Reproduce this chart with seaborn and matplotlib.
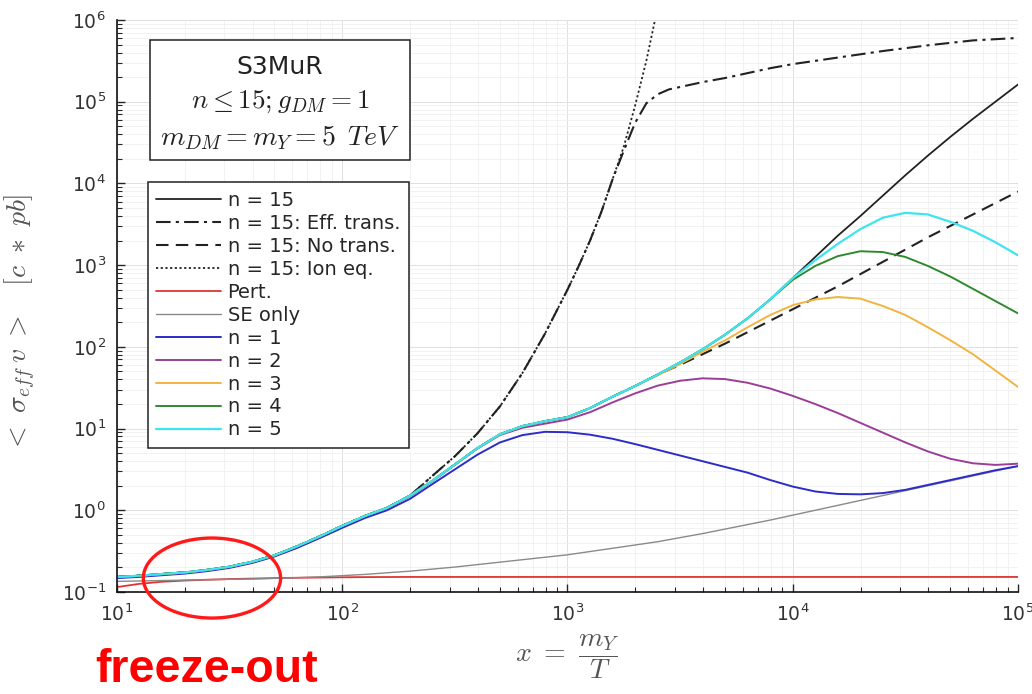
import numpy as np
import pandas as pd
import matplotlib
matplotlib.use("Agg")
import matplotlib.pyplot as plt
from matplotlib.patches import Ellipse, Rectangle
from matplotlib.ticker import LogLocator, NullFormatter
import seaborn as sns

# ---------------------------------------------------------------- data
# sampling points in x = m_Y / T
X = [10, 12.6, 15.8, 20, 25.1, 31.6, 39.8, 50.1, 63.1, 79.4,
     100, 126, 158, 200, 251, 316, 398, 501, 631, 794,
     1000, 1259, 1585, 1995, 2512, 3162, 3981, 5012, 6310, 7943,
     10000, 12589, 15849, 19953, 25119, 31623, 39811, 50119, 63096, 79433,
     100000]

# log10 <sigma_eff v> in c*pb on the X grid
LOG_N15 = [-0.816, -0.80, -0.78, -0.76, -0.73, -0.69, -0.63, -0.55, -0.44, -0.32,
           -0.19, -0.07, 0.03, 0.18, 0.36, 0.56, 0.76, 0.93, 1.03, 1.09,
           1.14, 1.25, 1.39, 1.52, 1.66, 1.81, 1.97, 2.15, 2.35, 2.58,
           2.84, 3.10, 3.36, 3.60, 3.85, 4.10, 4.34, 4.57, 4.79, 5.00,
           5.21]
LOG_NO_TRANS = [-0.816, -0.80, -0.78, -0.76, -0.73, -0.69, -0.63, -0.55, -0.44, -0.32,
                -0.19, -0.07, 0.03, 0.18, 0.36, 0.56, 0.76, 0.93, 1.03, 1.09,
                1.14, 1.25, 1.39, 1.52, 1.66, 1.78, 1.91, 2.04, 2.18, 2.32,
                2.46, 2.60, 2.74, 2.89, 3.04, 3.19, 3.34, 3.48, 3.62, 3.76,
                3.90]
LOG_PERT = [-0.94, -0.90, -0.875, -0.86, -0.85, -0.842, -0.836, -0.83, -0.826, -0.823,
            -0.82, -0.818, -0.817, -0.816, -0.816, -0.816, -0.816, -0.816, -0.816, -0.816,
            -0.816, -0.816, -0.816, -0.816, -0.816, -0.816, -0.816, -0.816, -0.816, -0.816,
            -0.816, -0.816, -0.816, -0.816, -0.816, -0.816, -0.816, -0.816, -0.816, -0.816,
            -0.816]
LOG_SE_ONLY = [-0.87, -0.865, -0.86, -0.855, -0.85, -0.845, -0.84, -0.833, -0.825, -0.815,
               -0.80, -0.785, -0.765, -0.745, -0.72, -0.695, -0.665, -0.635, -0.605, -0.575,
               -0.545, -0.505, -0.465, -0.425, -0.385, -0.335, -0.285, -0.23, -0.175, -0.12,
               -0.06, 0.0, 0.06, 0.12, 0.18, 0.24, 0.30, 0.36, 0.42, 0.48,
               0.54]
LOG_N1 = [-0.83, -0.815, -0.795, -0.775, -0.745, -0.705, -0.645, -0.565, -0.46, -0.34,
          -0.215, -0.095, 0.0, 0.14, 0.32, 0.50, 0.68, 0.83, 0.92, 0.96,
          0.955, 0.925, 0.875, 0.81, 0.74, 0.67, 0.60, 0.53, 0.46, 0.37,
          0.29, 0.23, 0.20, 0.195, 0.21, 0.25, 0.31, 0.37, 0.43, 0.49,
          0.54]
LOG_N2 = [-0.82, -0.805, -0.785, -0.765, -0.735, -0.695, -0.635, -0.555, -0.445, -0.325,
          -0.195, -0.075, 0.025, 0.175, 0.355, 0.555, 0.755, 0.92, 1.01, 1.06,
          1.11, 1.20, 1.32, 1.43, 1.525, 1.585, 1.615, 1.605, 1.56, 1.49,
          1.40, 1.30, 1.19, 1.07, 0.95, 0.83, 0.72, 0.63, 0.575, 0.555,
          0.57]
LOG_N3 = [-0.818, -0.802, -0.782, -0.762, -0.732, -0.692, -0.632, -0.552, -0.442, -0.322,
          -0.192, -0.072, 0.028, 0.178, 0.358, 0.558, 0.758, 0.928, 1.028, 1.088,
          1.138, 1.248, 1.388, 1.518, 1.65, 1.79, 1.94, 2.08, 2.24, 2.39,
          2.51, 2.58, 2.61, 2.59, 2.50, 2.39, 2.24, 2.08, 1.91, 1.71,
          1.51]
LOG_N4 = [-0.816, -0.80, -0.78, -0.76, -0.73, -0.69, -0.63, -0.55, -0.44, -0.32,
          -0.19, -0.07, 0.03, 0.18, 0.36, 0.56, 0.76, 0.93, 1.03, 1.09,
          1.14, 1.25, 1.39, 1.52, 1.66, 1.81, 1.97, 2.15, 2.35, 2.58,
          2.82, 2.99, 3.11, 3.17, 3.16, 3.10, 2.99, 2.86, 2.71, 2.56,
          2.41]
LOG_N5 = [-0.816, -0.80, -0.78, -0.76, -0.73, -0.69, -0.63, -0.55, -0.44, -0.32,
          -0.19, -0.07, 0.03, 0.18, 0.36, 0.56, 0.76, 0.93, 1.03, 1.09,
          1.14, 1.25, 1.39, 1.52, 1.66, 1.81, 1.97, 2.15, 2.35, 2.58,
          2.84, 3.06, 3.26, 3.44, 3.58, 3.64, 3.62, 3.53, 3.42, 3.28,
          3.12]

# ionisation-equilibrium curve (leaves the plot at the top)
X_ION = [10, 12.6, 15.8, 20, 25.1, 31.6, 39.8, 50.1, 63.1, 79.4,
         100, 126, 158, 200, 251, 316, 398, 501, 631, 794,
         1000, 1122, 1259, 1413, 1585, 1778, 1995, 2239, 2512]
LOG_ION = [-0.816, -0.80, -0.78, -0.76, -0.73, -0.69, -0.63, -0.55, -0.44, -0.32,
           -0.19, -0.07, 0.03, 0.18, 0.42, 0.66, 0.94, 1.27, 1.68, 2.16,
           2.70, 2.99, 3.30, 3.65, 4.05, 4.45, 4.95, 5.50, 6.15]

# effective-transition curve
X_EFF = [10, 12.6, 15.8, 20, 25.1, 31.6, 39.8, 50.1, 63.1, 79.4,
         100, 126, 158, 200, 251, 316, 398, 501, 631, 794,
         1000, 1122, 1259, 1413, 1585, 1778, 1995, 2239, 2512, 2818,
         3162, 3981, 5012, 6310, 7943, 10000, 15849, 25119, 39811, 63096,
         100000]
LOG_EFF = [-0.816, -0.80, -0.78, -0.76, -0.73, -0.69, -0.63, -0.55, -0.44, -0.32,
           -0.19, -0.07, 0.03, 0.18, 0.42, 0.66, 0.94, 1.27, 1.68, 2.16,
           2.70, 2.99, 3.30, 3.65, 4.05, 4.40, 4.74, 4.98, 5.09, 5.15,
           5.18, 5.24, 5.29, 5.35, 5.41, 5.46, 5.54, 5.62, 5.69, 5.75,
           5.78]

LABELS = ["n = 15", "n = 15: Eff. trans.", "n = 15: No trans.", "n = 15: Ion eq.",
          "Pert.", "SE only", "n = 1", "n = 2", "n = 3", "n = 4", "n = 5"]

# ---------------------------------------------------------------- style
sns.set_style("ticks")
plt.rcParams["font.family"] = ["DejaVu Sans"]
plt.rcParams["mathtext.fontset"] = "cm"

fig = plt.figure(figsize=(10.32, 6.94), dpi=100)
ax = fig.add_axes([0.1134, 0.147, 0.8730, 0.8242])

dashdot = (0, (7, 2.5, 1.5, 2.5))
series = [
    (X, LOG_N15, "#222222", "-", 1.3),
    (X_EFF, LOG_EFF, "#222222", dashdot, 1.5),
    (X, LOG_NO_TRANS, "#222222", (0, (6, 3.5)), 1.5),
    (X_ION, LOG_ION, "#222222", (0, (1.2, 1.4)), 1.3),
    (X, LOG_PERT, "#e03434", "-", 1.3),
    (X, LOG_SE_ONLY, "#8a8a8a", "-", 1.0),
    (X, LOG_N1, "#2c2cc8", "-", 1.4),
    (X, LOG_N2, "#9a3e9a", "-", 1.4),
    (X, LOG_N3, "#f2b441", "-", 1.4),
    (X, LOG_N4, "#2f8a2f", "-", 1.4),
    (X, LOG_N5, "#3fe4ee", "-", 1.6),
]

for (xs, logs, color, ls, lw), label in zip(series, LABELS):
    df = pd.DataFrame({"x": xs, "y": np.power(10.0, logs)})
    sns.lineplot(data=df, x="x", y="y", ax=ax, color=color, linestyle=ls,
                 linewidth=lw, label=label, sort=False, estimator=None)

ax.set_xscale("log")
ax.set_yscale("log")
ax.set_xlim(10, 1e5)
ax.set_ylim(0.1, 1e6)

ax.xaxis.set_major_locator(LogLocator(base=10, numticks=10))
ax.yaxis.set_major_locator(LogLocator(base=10, numticks=10))
ax.xaxis.set_minor_locator(LogLocator(base=10, subs=np.arange(2, 10), numticks=20))
ax.yaxis.set_minor_locator(LogLocator(base=10, subs=np.arange(2, 10), numticks=20))
ax.xaxis.set_minor_formatter(NullFormatter())
ax.yaxis.set_minor_formatter(NullFormatter())

ax.grid(which="major", color="#e0e0e0", linewidth=0.7)
ax.grid(which="minor", color="#f0f0f0", linewidth=0.6)
ax.set_axisbelow(True)

for side in ("top", "right"):
    ax.spines[side].set_visible(False)
for side in ("left", "bottom"):
    ax.spines[side].set_color("#111111")
    ax.spines[side].set_linewidth(1.2)

ax.tick_params(which="major", direction="in", length=6, width=1.0,
               labelsize=13.5, labelcolor="#333333", pad=8)
ax.tick_params(which="minor", direction="in", length=3.5, width=0.8)

ax.set_xlabel(r"$x\ =\ \dfrac{m_Y}{T}$", fontsize=20, color="#555555", labelpad=6)
ax.set_ylabel(r"$<\ \sigma_{eff}\,v\ >\quad [c\ *\ pb]$", fontsize=20,
              color="#555555", labelpad=4)
ax.yaxis.set_label_coords(-0.088, 0.47)

# parameter box
ax.add_patch(Rectangle((0.0366, 0.755), 0.2886, 0.210, transform=ax.transAxes,
                       facecolor="white", edgecolor="#222222", linewidth=1.1, zorder=5))
ax.text(0.181, 0.917, "S3MuR", transform=ax.transAxes, ha="center", va="center",
        fontsize=18, color="#222222", zorder=6)
ax.text(0.181, 0.857, r"$n \leq 15; g_{DM} = 1$", transform=ax.transAxes,
        ha="center", va="center", fontsize=19.5, color="#222222", zorder=6)
ax.text(0.181, 0.795, r"$m_{DM} = m_Y = 5\ \,TeV$", transform=ax.transAxes,
        ha="center", va="center", fontsize=20, color="#222222", zorder=6)

leg = ax.legend(loc="upper left", bbox_to_anchor=(0.034, 0.717), borderaxespad=0,
                fontsize=14, handlelength=3.3, handletextpad=0.36, labelspacing=0.205,
                borderpad=0.45, fancybox=False, framealpha=1, edgecolor="#222222")
leg.get_frame().set_linewidth(1.1)
leg.set_zorder(6)

# freeze-out marker
fig.patches.append(Ellipse((0.2054, 0.1671), 0.1330, 0.1153, transform=fig.transFigure,
                           fill=False, edgecolor="#ff1a1a", linewidth=2.4, zorder=10))
fig.text(0.200, 0.035, "freeze-out", ha="center", va="center", fontsize=33.5,
         fontweight="bold", color="#ff0000", family=["Liberation Sans", "DejaVu Sans"])

fig.savefig("out.png", dpi=100)
